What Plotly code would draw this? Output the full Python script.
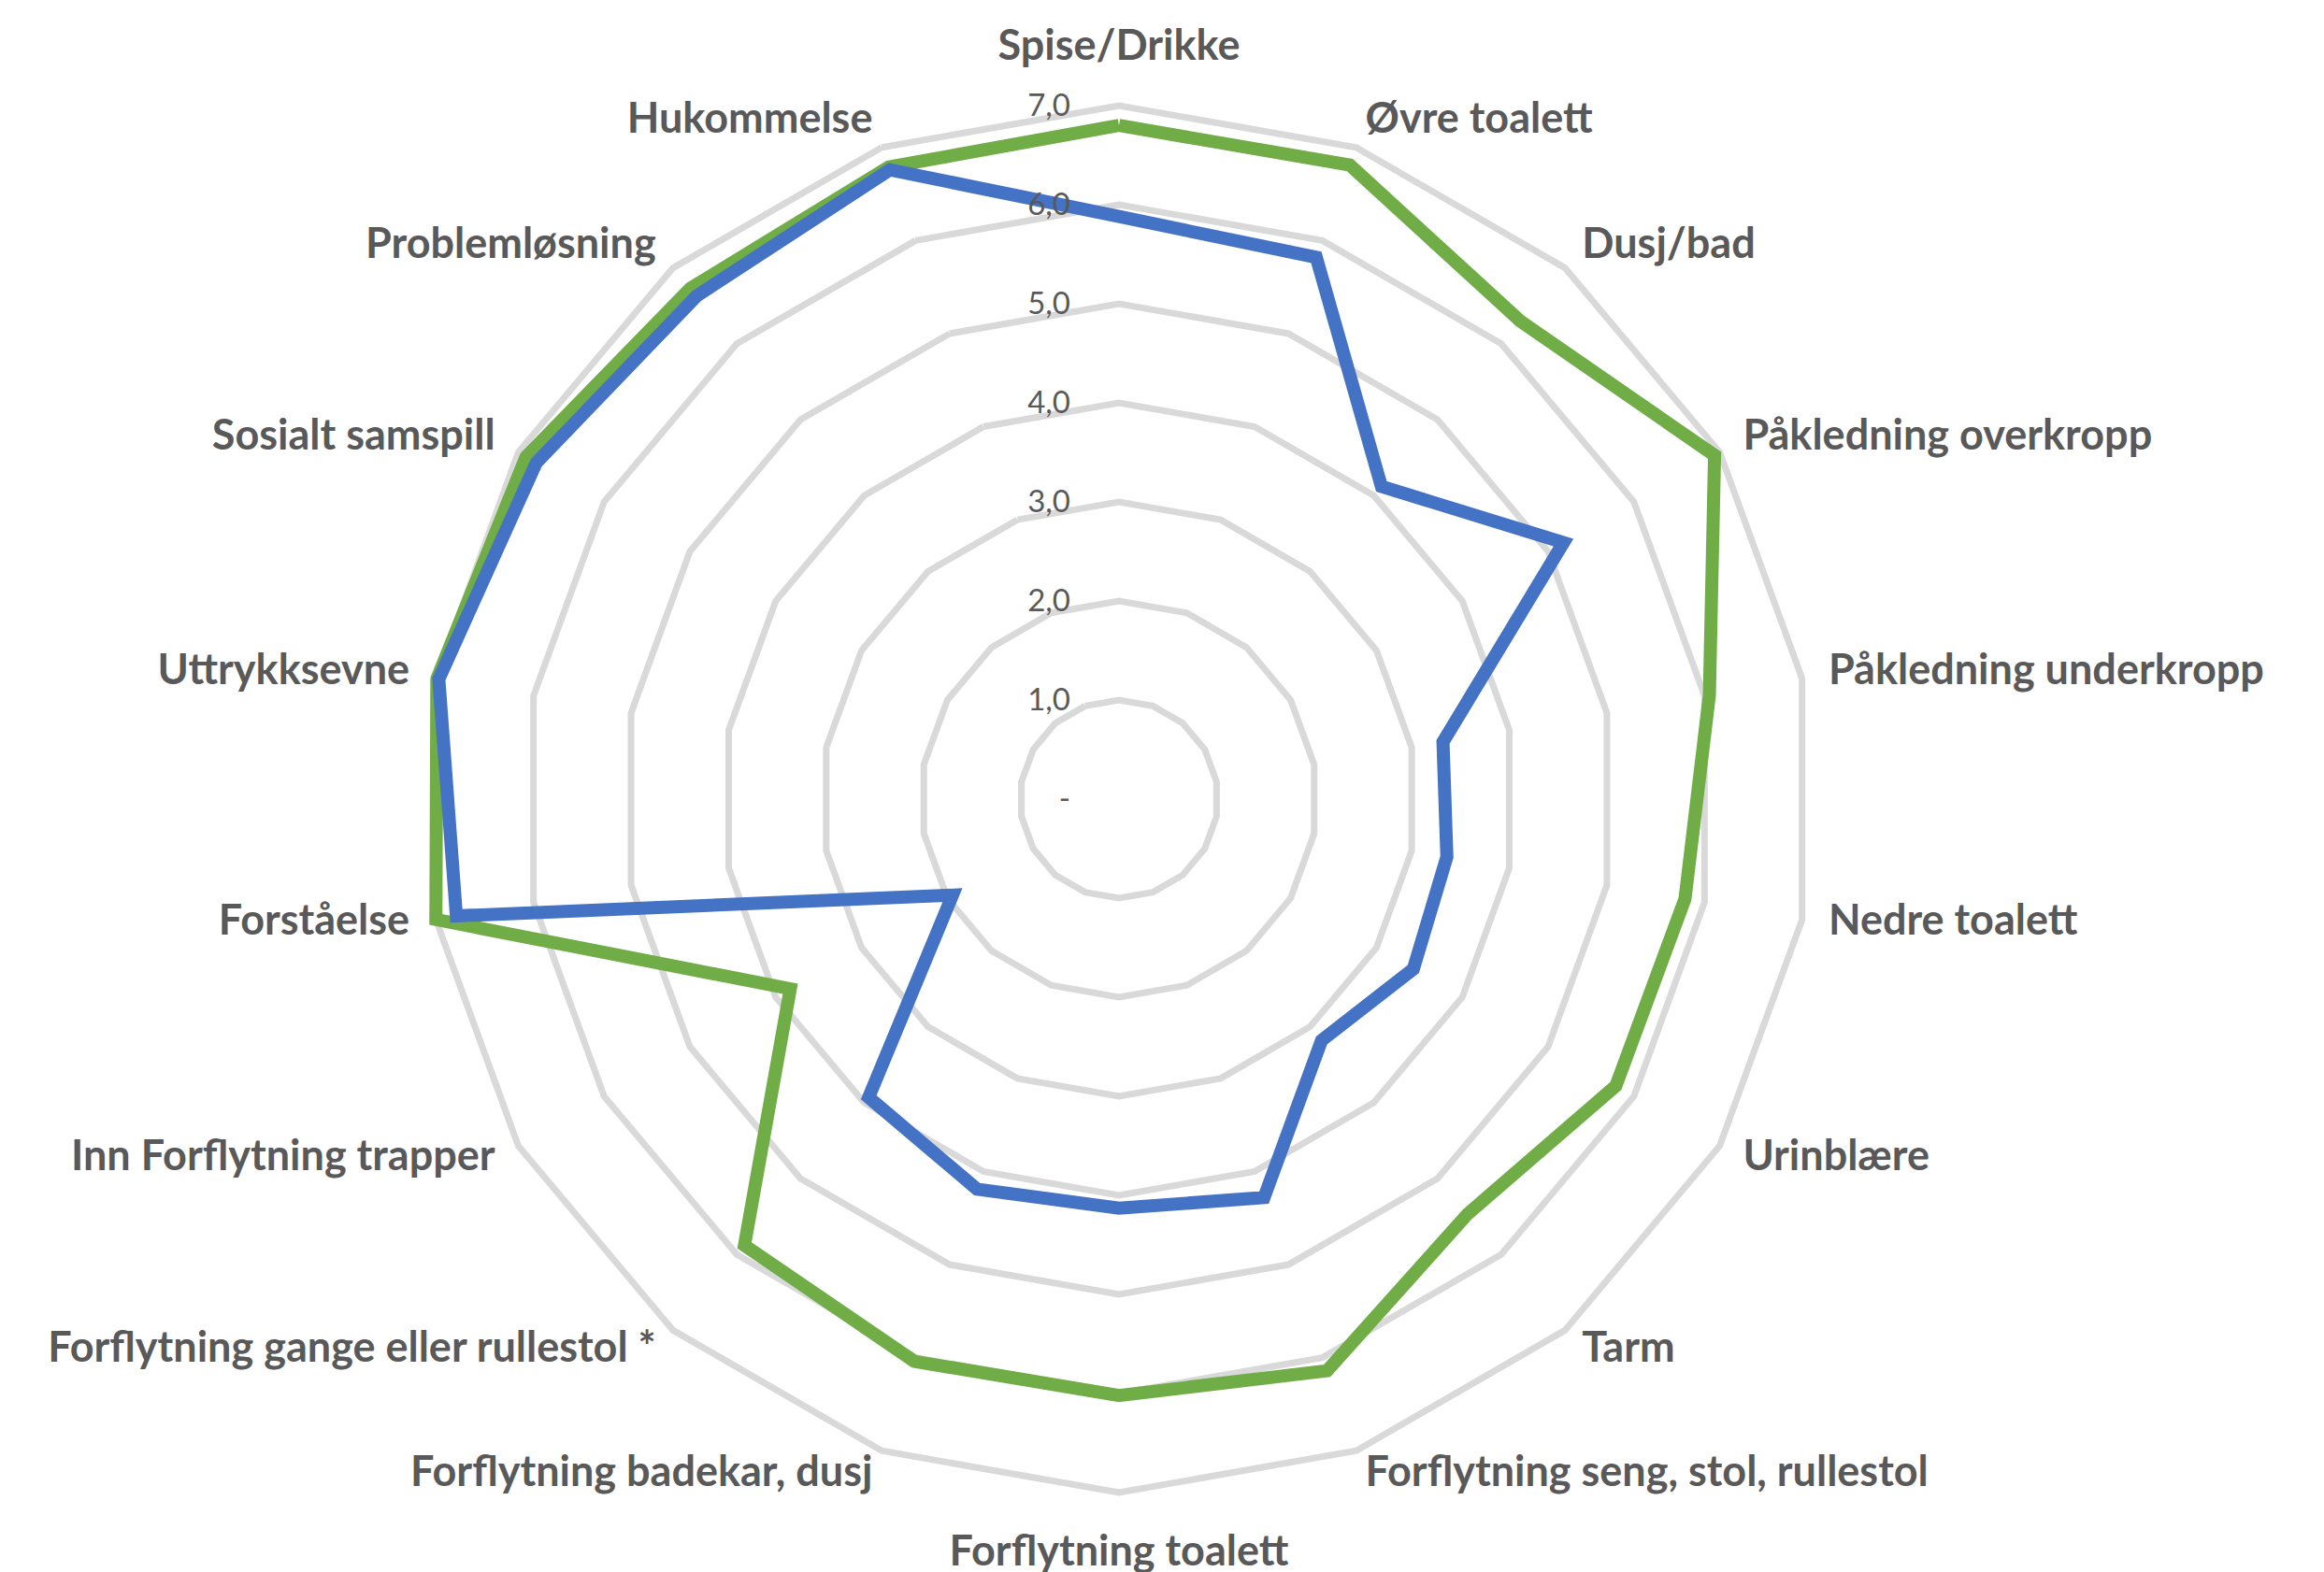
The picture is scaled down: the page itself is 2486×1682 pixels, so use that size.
import plotly.graph_objects as go

categories = [
    "Spise/Drikke", "Øvre toalett", "Dusj/bad", "Påkledning overkropp",
    "Påkledning underkropp", "Nedre toalett", "Urinblære", "Tarm",
    "Forflytning seng, stol, rullestol", "Forflytning toalett",
    "Forflytning badekar, dusj", "Forflytning gange eller rullestol *",
    "Inn Forflytning trapper", "Forståelse", "Uttrykksevne",
    "Sosialt samspill", "Problemløsning", "Hukommelse",
]
blue_values = [5.88, 5.82, 4.12, 5.18, 3.32, 3.36, 3.43, 3.18, 4.28, 4.13,
               4.19, 3.93, 1.94, 6.79, 6.97, 6.79, 6.63, 6.76]
green_values = [6.80, 6.81, 6.30, 6.94, 6.05, 5.80, 5.79, 5.47, 6.14, 6.02,
                6.04, 5.88, 3.83, 7.0, 6.99, 6.91, 6.73, 6.79]
radial_ticks = [0, 1, 2, 3, 4, 5, 6, 7]
radial_ticktext = ["-", "1,0", "2,0", "3,0", "4,0", "5,0", "6,0", "7,0"]

GRID = "#D9D9D9"
TEXT = "#595959"
RMAX = 7
LABEL_R_SIDE = 7.27
LABEL_R_TOP = 7.36
LABEL_R_BOTTOM = 7.42
RANGE_MAX = 7.45

n = len(categories)
label_pos = []
label_r = []
for i in range(n):
    ang = (90 - 360.0 * i / n) % 360
    if abs(ang - 90) < 1:
        label_pos.append("top center")
        label_r.append(LABEL_R_TOP)
    elif abs(ang - 270) < 1:
        label_pos.append("bottom center")
        label_r.append(LABEL_R_BOTTOM)
    elif ang < 90 or ang > 270:
        label_pos.append("middle right")
        label_r.append(LABEL_R_SIDE)
    else:
        label_pos.append("middle left")
        label_r.append(LABEL_R_SIDE)

fig = go.Figure()
fig.add_trace(go.Scatterpolar(
    r=green_values + green_values[:1], theta=categories + categories[:1],
    mode="lines", line=dict(color="#70AD47", width=14), name="Green",
))
fig.add_trace(go.Scatterpolar(
    r=blue_values + blue_values[:1], theta=categories + categories[:1],
    mode="lines", line=dict(color="#4472C4", width=14), name="Blue",
))
fig.add_trace(go.Scatterpolar(
    r=label_r, theta=categories, mode="text", text=categories,
    textposition=label_pos, hoverinfo="skip",
    textfont=dict(family="Lato", size=45, color=TEXT, weight="bold"),
    name="labels",
))

W, H = 2486, 1682
cx, cy, R7 = 1189, 847, 742
R = R7 * RANGE_MAX / RMAX
fig.update_layout(
    width=W, height=H,
    paper_bgcolor="white", plot_bgcolor="white",
    margin=dict(l=0, r=0, t=0, b=0),
    showlegend=False,
    polar=dict(
        domain=dict(x=[(cx - R) / W, (cx + R) / W],
                    y=[1 - (cy + R) / H, 1 - (cy - R) / H]),
        bgcolor="rgba(0,0,0,0)",
        gridshape="linear",
        radialaxis=dict(
            range=[0, RANGE_MAX], tickvals=radial_ticks, ticktext=radial_ticktext,
            angle=90, side="counterclockwise", tickangle=90,
            showline=False, ticks="outside", ticklen=40,
            tickcolor="rgba(0,0,0,0)",
            gridcolor=GRID, gridwidth=7,
            tickfont=dict(family="Lato", size=33, color=TEXT),
        ),
        angularaxis=dict(
            rotation=90, direction="clockwise",
            showgrid=False, showline=False,
            ticks="", showticklabels=False,
        ),
    ),
)

fig.write_html("out.html")
